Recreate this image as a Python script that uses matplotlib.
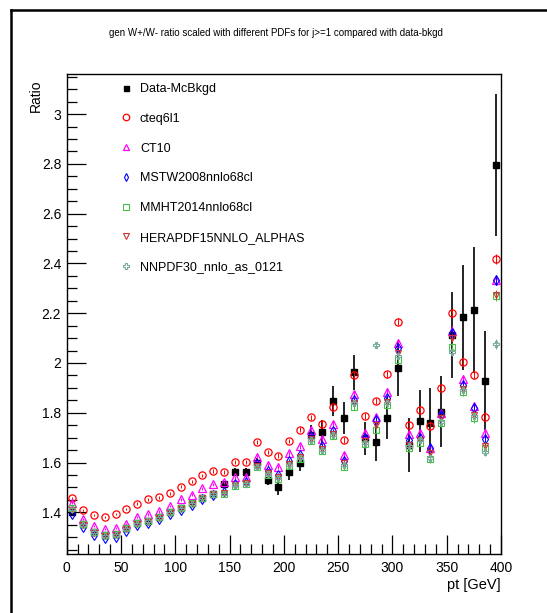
import matplotlib
matplotlib.use("Agg")
import matplotlib.pyplot as plt
from matplotlib.lines import Line2D
from matplotlib.ticker import MultipleLocator

plt.rcParams['font.family'] = ['Liberation Sans', 'DejaVu Sans']

# 10 GeV bins in pt, bin centres
pt = [5, 15, 25, 35, 45, 55, 65, 75, 85, 95,
      105, 115, 125, 135, 145, 155, 165, 175, 185, 195,
      205, 215, 225, 235, 245, 255, 265, 275, 285, 295,
      305, 315, 325, 335, 345, 355, 365, 375, 385, 395]

data_ratio = [1.400, 1.352, 1.320, 1.309, 1.313, 1.336, 1.356, 1.364, 1.380, 1.402,
              1.418, 1.436, 1.456, 1.473, 1.513, 1.561, 1.561, 1.600, 1.530, 1.500,
              1.561, 1.599, 1.711, 1.721, 1.847, 1.778, 1.963, 1.697, 1.681, 1.778,
              1.979, 1.670, 1.768, 1.758, 1.804, 2.112, 2.183, 2.213, 1.929, 2.795]
data_err = [0.005, 0.005, 0.005, 0.005, 0.005, 0.006, 0.006, 0.007, 0.007, 0.008,
            0.009, 0.010, 0.011, 0.012, 0.014, 0.016, 0.018, 0.020, 0.022, 0.030,
            0.032, 0.035, 0.040, 0.050, 0.060, 0.065, 0.070, 0.065, 0.075, 0.084,
            0.110, 0.107, 0.124, 0.140, 0.142, 0.172, 0.210, 0.253, 0.200, 0.285]

cteq6l1 = [1.456, 1.409, 1.388, 1.380, 1.392, 1.413, 1.435, 1.452, 1.460, 1.476,
           1.503, 1.524, 1.549, 1.566, 1.562, 1.603, 1.603, 1.683, 1.641, 1.628,
           1.687, 1.731, 1.781, 1.755, 1.822, 1.692, 1.950, 1.787, 1.848, 1.955,
           2.166, 1.751, 1.811, 1.747, 1.898, 2.200, 2.005, 1.952, 1.784, 2.418]
ct10 = [1.436, 1.372, 1.345, 1.332, 1.336, 1.354, 1.382, 1.392, 1.404, 1.425,
        1.452, 1.471, 1.497, 1.512, 1.520, 1.540, 1.543, 1.623, 1.590, 1.581,
        1.637, 1.665, 1.730, 1.695, 1.755, 1.632, 1.875, 1.720, 1.782, 1.885,
        2.081, 1.715, 1.717, 1.660, 1.800, 2.130, 1.934, 1.827, 1.720, 2.333]
mstw2008 = [1.395, 1.340, 1.310, 1.297, 1.302, 1.326, 1.348, 1.357, 1.372, 1.392,
            1.410, 1.430, 1.452, 1.470, 1.480, 1.515, 1.522, 1.595, 1.565, 1.550,
            1.605, 1.630, 1.705, 1.665, 1.725, 1.605, 1.850, 1.700, 1.771, 1.858,
            2.059, 1.690, 1.700, 1.657, 1.790, 2.119, 1.911, 1.818, 1.693, 2.333]
mmht2014 = [1.418, 1.352, 1.322, 1.308, 1.312, 1.336, 1.357, 1.366, 1.380, 1.400,
            1.416, 1.436, 1.458, 1.474, 1.473, 1.505, 1.512, 1.581, 1.549, 1.535,
            1.588, 1.615, 1.688, 1.647, 1.707, 1.581, 1.822, 1.673, 1.731, 1.831,
            2.012, 1.657, 1.680, 1.613, 1.758, 2.065, 1.885, 1.778, 1.657, 2.269]
herapdf15 = [1.410, 1.348, 1.318, 1.305, 1.309, 1.332, 1.353, 1.362, 1.377, 1.397,
             1.414, 1.434, 1.456, 1.473, 1.478, 1.510, 1.517, 1.588, 1.556, 1.542,
             1.595, 1.622, 1.695, 1.655, 1.715, 1.598, 1.838, 1.688, 1.752, 1.842,
             2.040, 1.672, 1.690, 1.640, 1.778, 2.100, 1.895, 1.792, 1.665, 2.275]
nnpdf30 = [1.412, 1.350, 1.320, 1.306, 1.310, 1.334, 1.355, 1.364, 1.378, 1.398,
           1.415, 1.435, 1.457, 1.473, 1.475, 1.508, 1.514, 1.584, 1.552, 1.538,
           1.592, 1.618, 1.690, 1.650, 1.710, 1.590, 1.838, 1.680, 2.072, 1.840,
           2.030, 1.668, 1.690, 1.620, 1.762, 2.045, 1.890, 1.785, 1.644, 2.076]
mc_err = [0.004, 0.004, 0.004, 0.004, 0.004, 0.004, 0.005, 0.005, 0.005, 0.005,
          0.006, 0.006, 0.006, 0.007, 0.007, 0.007, 0.008, 0.008, 0.008, 0.009,
          0.009, 0.010, 0.010, 0.011, 0.011, 0.012, 0.012, 0.013, 0.013, 0.014,
          0.014, 0.015, 0.015, 0.016, 0.016, 0.017, 0.017, 0.018, 0.018, 0.019]

series = [
    ("cteq6l1", cteq6l1, dict(marker='o', color='#ff0000', ms=5.2, mew=0.9)),
    ("CT10", ct10, dict(marker='^', color='#ff00ff', ms=5.4, mew=0.9)),
    ("MSTW2008nnlo68cl", mstw2008, dict(marker='d', color='#0000ff', ms=4.6, mew=0.8)),
    ("MMHT2014nnlo68cl", mmht2014, dict(marker='s', color='#44c044', ms=5.0, mew=0.8)),
    ("HERAPDF15NNLO_ALPHAS", herapdf15, dict(marker='v', color='#cc3333', ms=4.6, mew=0.8)),
    ("NNPDF30_nnlo_as_0121", nnpdf30, dict(marker='P', color='#77aa99', ms=5.0, mew=0.8)),
]

W, H = 547, 613
fig = plt.figure(figsize=(W / 100, H / 100), dpi=100)
ax = fig.add_axes([66.7 / W, 1 - 554 / H, (501 - 66.7) / W, (554 - 74) / H])

# canvas border (left and top edges)
fig.add_artist(Line2D([11 / W, 11 / W], [0, 1 - 10 / H], transform=fig.transFigure,
                      color='black', lw=1.8))
fig.add_artist(Line2D([11 / W, 1], [1 - 10 / H, 1 - 10 / H], transform=fig.transFigure,
                      color='black', lw=1.8))

handles = []
ax.errorbar(pt, data_ratio, yerr=data_err, fmt='s', color='black', ms=3.8,
            elinewidth=1.2, capsize=0, zorder=3)
handles.append(Line2D([], [], marker='s', color='black', ls='none', ms=3.6,
                      label='Data-McBkgd'))

for i, (name, vals, st) in enumerate(series):
    ax.errorbar(pt, vals, yerr=mc_err, fmt=st['marker'], color=st['color'],
                ms=st['ms'], mfc='none', mec=st['color'], mew=st['mew'],
                elinewidth=0.7, capsize=0, zorder=4 + i)
    handles.append(Line2D([], [], marker=st['marker'], color=st['color'], ls='none',
                          ms=st['ms'] * 0.9, mfc='none', mew=st['mew'], label=name))

ax.set_xlim(0, 400)
ax.set_ylim(1.2325, 3.161)

ax.xaxis.set_major_locator(MultipleLocator(50))
ax.xaxis.set_minor_locator(MultipleLocator(10))
ax.yaxis.set_major_locator(MultipleLocator(0.2))
ax.yaxis.set_minor_locator(MultipleLocator(0.05))
ax.tick_params(which='both', direction='in', top=False, right=False, labelsize=10)
ax.tick_params(which='major', length=14, width=0.9)
ax.tick_params(which='minor', length=7, width=0.9)
ax.tick_params(axis='x', pad=5)
ax.tick_params(axis='y', pad=4)
ax.yaxis.set_major_formatter(plt.FuncFormatter(lambda v, p: f"{v:g}"))
for s in ax.spines.values():
    s.set_linewidth(1.0)

ax.set_xlabel("pt [GeV]", fontsize=10.5, loc='right', labelpad=2)
ax.set_ylabel("Ratio", fontsize=10, loc='top', labelpad=-2)
ax.yaxis.set_label_coords(36 / W, 1 - 80 / H, transform=fig.transFigure)
ax.yaxis.label.set_va('center')

fig.text(0.504, 1 - 33 / H,
         "gen W+/W- ratio scaled with different PDFs for j>=1 compared with data-bkgd",
         ha='center', va='center', fontsize=7)

ax.legend(handles=handles, loc='upper left', bbox_to_anchor=(120 / W, 1 - 83 / H),
          bbox_transform=fig.transFigure, frameon=False, fontsize=9,
          handlelength=1.0, handletextpad=0.6, labelspacing=1.42, borderpad=0,
          borderaxespad=0)

fig.savefig("out.png", dpi=100)
